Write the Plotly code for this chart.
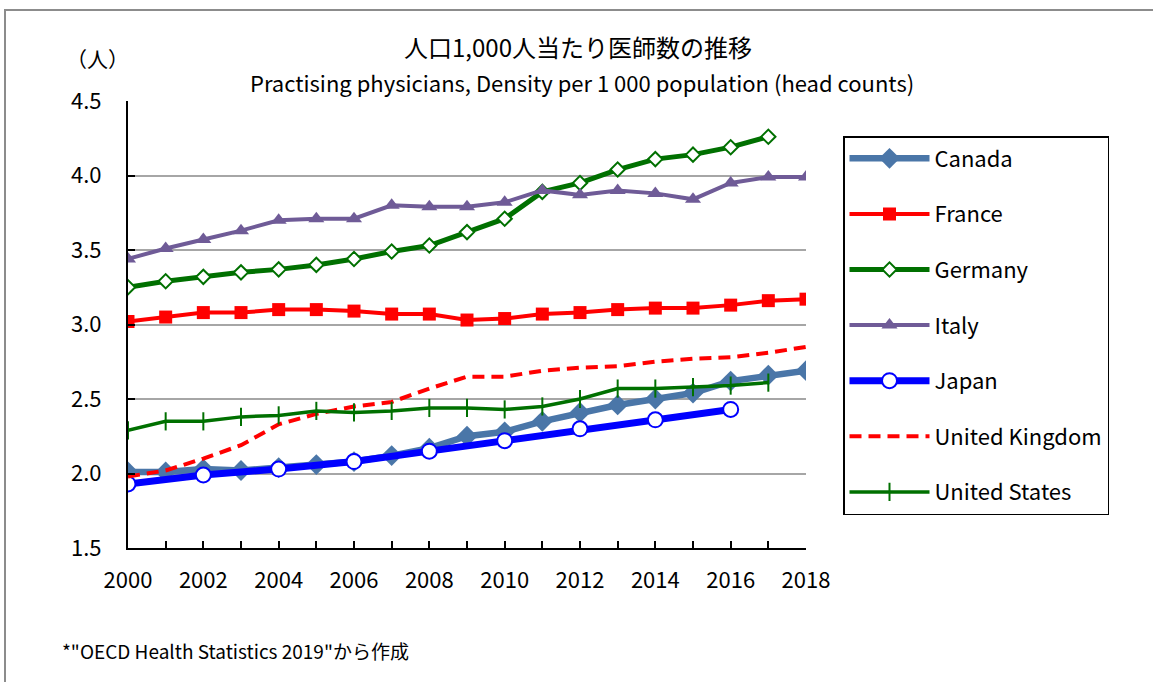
import plotly.graph_objects as go

years = list(range(2000, 2019))
japan_years = list(range(2000, 2017, 2))

canada = [2.01, 2.01, 2.03, 2.02, 2.04, 2.06, 2.08, 2.12, 2.17, 2.25, 2.28, 2.35, 2.41, 2.46, 2.50, 2.54, 2.62, 2.66, 2.69]
france = [3.02, 3.05, 3.08, 3.08, 3.10, 3.10, 3.09, 3.07, 3.07, 3.03, 3.04, 3.07, 3.08, 3.10, 3.11, 3.11, 3.13, 3.16, 3.17]
germany = [3.25, 3.29, 3.32, 3.35, 3.37, 3.40, 3.44, 3.49, 3.53, 3.62, 3.71, 3.89, 3.95, 4.04, 4.11, 4.14, 4.19, 4.26, None]
italy = [3.44, 3.51, 3.57, 3.63, 3.70, 3.71, 3.71, 3.80, 3.79, 3.79, 3.82, 3.90, 3.87, 3.90, 3.88, 3.84, 3.95, 3.99, 3.99]
japan = [1.93, 1.99, 2.03, 2.08, 2.15, 2.22, 2.30, 2.36, 2.43]
uk = [1.98, 2.02, 2.10, 2.19, 2.33, 2.40, 2.45, 2.48, 2.57, 2.65, 2.65, 2.69, 2.71, 2.72, 2.75, 2.77, 2.78, 2.81, 2.85]
us = [2.29, 2.35, 2.35, 2.38, 2.39, 2.42, 2.41, 2.42, 2.44, 2.44, 2.43, 2.45, 2.50, 2.57, 2.57, 2.58, 2.59, 2.61, None]

y_ticks = [1.5, 2.0, 2.5, 3.0, 3.5, 4.0, 4.5]
x_tick_labels = [str(y) if y % 2 == 0 else "" for y in years]

title = "人口1,000人当たり医師数の推移"
subtitle = "Practising physicians, Density per 1 000 population (head counts)"
unit = "（人）"
footer = '*"OECD Health Statistics 2019"から作成'

FONT = "Noto Sans CJK JP, Noto Sans, sans-serif"

fig = go.Figure()

def add(name, x, y, color, width, symbol, msize, mcolor, mline_color, mline_w, dash="solid"):
    fig.add_trace(go.Scatter(
        x=x, y=y, name=name, mode="lines+markers",
        line=dict(color=color, width=width, dash=dash),
        marker=dict(symbol=symbol, size=msize, color=mcolor,
                    line=dict(color=mline_color, width=mline_w)),
        connectgaps=False, legendgroup=name,
    ))

add("Canada", years, canada, "#4a76a8", 6.5, "diamond", 16, "#4a76a8", "#4a76a8", 0)
add("France", years, france, "#ff0000", 4, "square", 13, "#ff0000", "#ff0000", 0)
add("Germany", years, germany, "#007000", 5, "diamond", 11, "white", "#007000", 2)
add("Italy", years, italy, "#6f5b97", 4, "triangle-up", 14, "#6f5b97", "#6f5b97", 0)
add("Japan", japan_years, japan, "#0000ff", 7, "circle", 15, "white", "#0000ff", 2)
add("United Kingdom", years, uk, "#ff0000", 4, "circle", 1, "rgba(0,0,0,0)", "rgba(0,0,0,0)", 0, dash="12px,7px")
add("United States", years, us, "#007000", 3.5, "line-ns", 13, "#007000", "#007000", 2)

pl, pr, pt, pb = 128, 806, 101, 548

fig.update_layout(
    width=1153, height=682,
    margin=dict(l=pl, r=1153 - pr, t=pt, b=682 - pb),
    paper_bgcolor="white", plot_bgcolor="white",
    font=dict(family=FONT, color="black", size=21),
    showlegend=True,
    legend=dict(
        x=(843 - pl) / (pr - pl), y=(pb - 136) / (pb - pt), xanchor="left", yanchor="top",
        bordercolor="black", borderwidth=1.5,
        font=dict(size=22, family=FONT),
        tracegroupgap=24, itemwidth=80,
        bgcolor="white",
    ),
    xaxis=dict(
        range=[2000, 2018], tickvals=years, ticktext=x_tick_labels,
        ticks="inside", ticklen=7, tickcolor="black", tickwidth=1.5,
        showline=True, linecolor="black", linewidth=2,
        showgrid=False, zeroline=False,
        tickfont=dict(size=22), ticklabelstandoff=12,
    ),
    yaxis=dict(
        range=[1.5, 4.5], tickvals=y_ticks, tickformat=".1f",
        ticks="inside", ticklen=7, tickcolor="black", tickwidth=1.5,
        showline=True, linecolor="black", linewidth=2,
        showgrid=True, gridcolor="#a6a6a6", gridwidth=1.5,
        zeroline=False, tickfont=dict(size=22), ticklabelstandoff=20,
    ),
)

def px_ann(text, x, y, size, xanchor="center"):
    fig.add_annotation(text=text, x=(x - pl) / (pr - pl), y=(pb - y) / (pb - pt),
                       xref="paper", yref="paper", showarrow=False,
                       xanchor=xanchor, yanchor="middle", font=dict(size=size))

px_ann(title, 578, 47, 24)
px_ann(subtitle, 582, 82, 22)
px_ann(unit, 97, 58, 21)
px_ann(footer, 60, 650, 19, xanchor="left")

# outer frame (gray) as in the reference
fig.add_shape(type="rect", xref="paper", yref="paper",
              x0=(5 - pl) / (pr - pl), x1=(1170 - pl) / (pr - pl),
              y0=(pb - 700) / (pb - pt), y1=(pb - 10) / (pb - pt),
              line=dict(color="#8c8c8c", width=2), layer="below")

fig.write_html("out.html", config={"displayModeBar": False},
               post_script="document.body.style.margin='0';document.body.style.overflow='hidden';")
